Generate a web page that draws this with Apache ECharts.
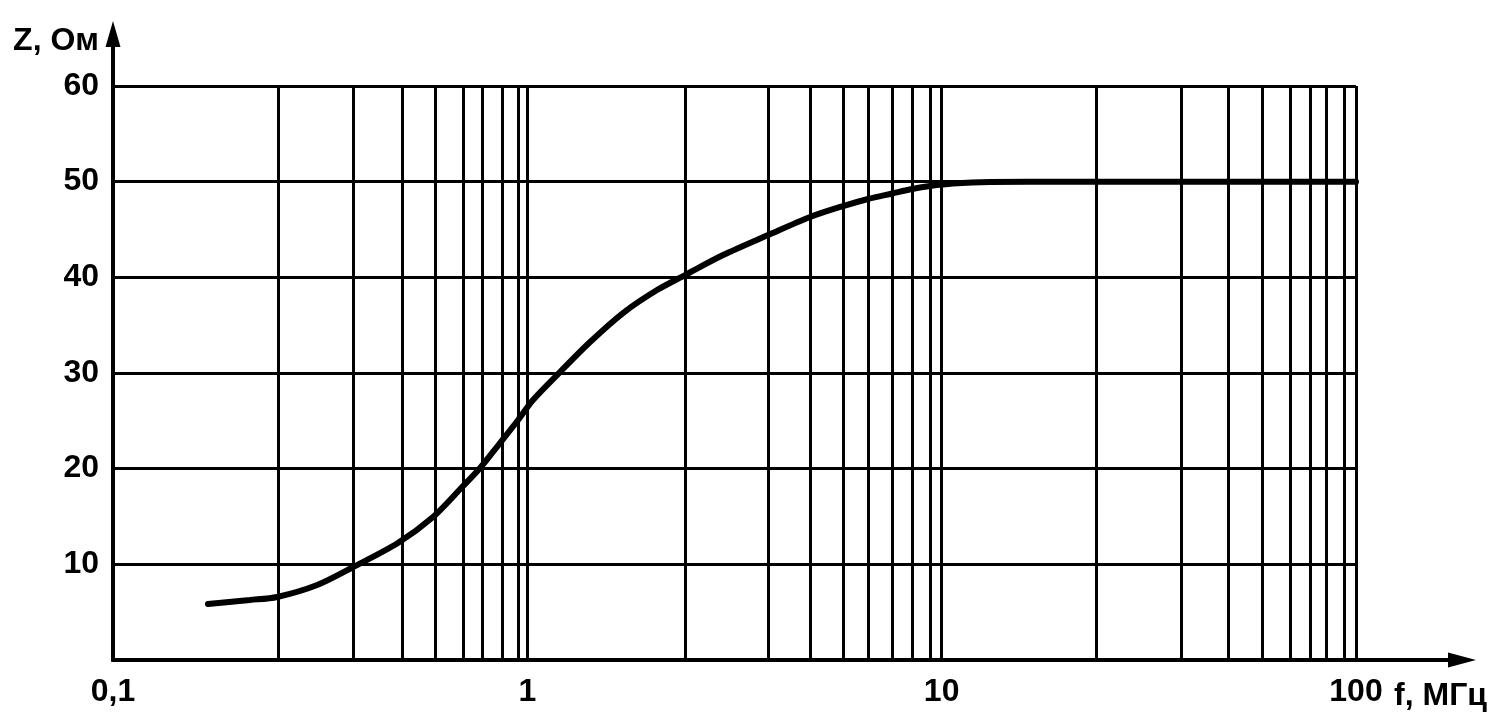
<!DOCTYPE html>
<html>
<head>
<meta charset="utf-8">
<script src="https://cdn.jsdelivr.net/npm/echarts@6/dist/echarts.min.js"></script>
<style>
html,body{margin:0;padding:0;background:#fff;}
#c{width:1511px;height:725px;}
</style>
</head>
<body>
<div id="c"></div>
<script>
// Frequency f, MHz (log scale) and impedance Z, Ohm
const FREQ = [0.1695, 0.214, 0.249, 0.311, 0.380, 0.487, 0.592, 0.696, 0.769, 0.859, 0.950,
              1.032, 1.199, 1.417, 1.702, 2.056, 2.403, 2.968, 3.811, 4.814, 5.781, 6.643,
              7.592, 8.484, 9.375, 10.65, 13.09, 20, 50, 100];
const Z = [5.85, 6.27, 6.59, 7.84, 9.72, 12.23, 14.95, 18.08, 20.07, 22.68, 25.09,
           27.18, 30.10, 33.24, 36.27, 38.67, 40.24, 42.33, 44.42, 46.31, 47.45, 48.19,
           48.76, 49.23, 49.55, 49.81, 49.97, 50, 50, 50];
// Intermediate vertical grid lines as printed in the reference
const MINOR_X = [0.25, 0.384, 0.496, 0.603, 0.70, 0.782, 0.869, 0.95,
                 2.40, 3.81, 4.81, 5.78, 6.64, 7.59, 8.48, 9.37,
                 23.6, 37.8, 49.1, 59.3, 69.3, 77.5, 84.7, 93.6];
const X_TICK_LABELS = {'-1': '0,1', '0': '1', '1': '10', '2': '100'};
const Y_TICKS = [0, 10, 20, 30, 40, 50, 60];
const X_NAME = 'f, МГц';
const Y_NAME = 'Z, Ом';

const FONT = 'Liberation Sans';
const chart = echarts.init(document.getElementById('c'));
const black = '#000';
const txt = {color: black, fontFamily: FONT, fontSize: 32, fontWeight: 'bold'};

chart.setOption({
  animation: false,
  backgroundColor: '#fff',
  grid: [
    {left: 113, right: 155, top: 86, bottom: 65, containLabel: false},
    {left: 113, right: 49, top: 34, bottom: 65, containLabel: false}
  ],
  xAxis: [
    {
      type: 'log', logBase: 10, min: 0.1, max: 100, gridIndex: 0,
      axisLine: {show: true, lineStyle: {color: black, width: 4}},
      axisTick: {show: false},
      axisLabel: Object.assign({}, txt, {
        margin: 16,
        formatter: v => X_TICK_LABELS[String(Math.round(Math.log10(v)))] || ''
      }),
      splitLine: {show: true, lineStyle: {color: black, width: 3}}
    },
    {
      type: 'value', min: 0, max: 1, gridIndex: 1,
      name: X_NAME, nameLocation: 'end', nameGap: 25,
      nameTextStyle: Object.assign({}, txt, {align: 'right', verticalAlign: 'top', padding: [20, 0, 0, 0]}),
      axisLine: {show: true, symbol: ['none', 'triangle'], symbolSize: [15, 28],
                 lineStyle: {color: black, width: 4}},
      axisTick: {show: false}, axisLabel: {show: false}, splitLine: {show: false}
    }
  ],
  yAxis: [
    {
      type: 'value', min: Y_TICKS[0], max: Y_TICKS[Y_TICKS.length - 1], interval: 10, gridIndex: 0,
      axisLine: {show: true, lineStyle: {color: black, width: 4}},
      axisTick: {show: false},
      axisLabel: Object.assign({}, txt, {margin: 14, padding: [6, 0, 0, 0], formatter: v => v === 0 ? '' : String(v)}),
      splitLine: {show: true, lineStyle: {color: black, width: 3}}
    },
    {
      type: 'value', min: 0, max: 1, gridIndex: 1,
      name: Y_NAME, nameLocation: 'end', nameGap: -7,
      nameTextStyle: Object.assign({}, txt, {align: 'right', verticalAlign: 'middle', padding: [0, 14, 0, 0]}),
      axisLine: {show: true, symbol: ['none', 'triangle'], symbolSize: [15, 26],
                 lineStyle: {color: black, width: 4}},
      axisTick: {show: false}, axisLabel: {show: false}, splitLine: {show: false}
    }
  ],
  series: [
    {
      type: 'line', xAxisIndex: 0, yAxisIndex: 0, data: [], z: 1, silent: true,
      markLine: {
        silent: true, symbol: ['none', 'none'], label: {show: false},
        lineStyle: {color: black, width: 3, type: 'solid'},
        emphasis: {disabled: true},
        data: MINOR_X.map(v => ({xAxis: v}))
      }
    },
    {
      type: 'line', xAxisIndex: 0, yAxisIndex: 0, z: 5, silent: true,
      data: FREQ.map((f, i) => [f, Z[i]]),
      showSymbol: false, smooth: 0.3,
      lineStyle: {color: black, width: 6, cap: 'round'}
    }
  ]
});
</script>
</body>
</html>
